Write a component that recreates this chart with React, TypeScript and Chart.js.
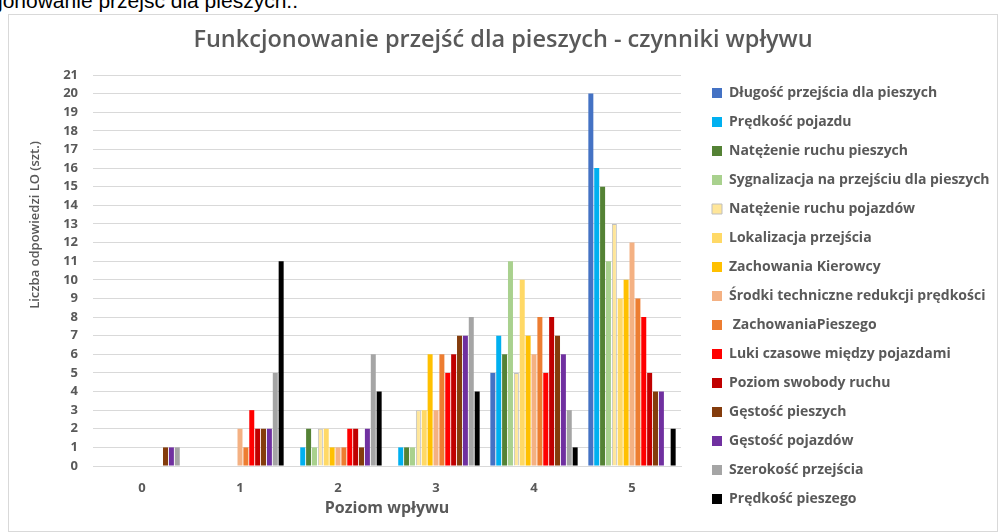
import React, { useEffect, useRef } from "react";
import { Chart, registerables } from "chart.js";

Chart.register(...registerables);

const categories = ["0", "1", "2", "3", "4", "5"];
const yTicks = [0, 21];
const chartTitle = "Funkcjonowanie przejść dla pieszych - czynniki wpływu";
const xAxisTitle = "Poziom wpływu";
const yAxisTitle = "Liczba odpowiedzi LO (szt.)";

const seriesNames = [
  "Długość przejścia dla pieszych",
  "Prędkość pojazdu",
  "Natężenie ruchu pieszych",
  "Sygnalizacja na przejściu dla pieszych",
  "Natężenie ruchu pojazdów",
  "Lokalizacja przejścia",
  "Zachowania Kierowcy",
  "Środki techniczne redukcji prędkości",
  " ZachowaniaPieszego",
  "Luki czasowe między pojazdami",
  "Poziom swobody ruchu",
  "Gęstość pieszych",
  "Gęstość pojazdów",
  "Szerokość przejścia",
  "Prędkość pieszego",
];

const dlugosc = [0, 0, 0, 0, 5, 20];
const predkoscPojazdu = [0, 0, 1, 1, 7, 16];
const natezeniePieszych = [0, 0, 2, 1, 6, 15];
const sygnalizacja = [0, 0, 1, 1, 11, 11];
const natezeniePojazdow = [0, 0, 2, 3, 5, 13];
const lokalizacja = [0, 0, 2, 3, 10, 9];
const zachowaniaKierowcy = [0, 0, 1, 6, 7, 10];
const srodki = [0, 2, 1, 3, 6, 12];
const zachowaniaPieszego = [0, 1, 1, 6, 8, 9];
const luki = [0, 3, 2, 5, 5, 8];
const poziomSwobody = [0, 2, 2, 6, 8, 5];
const gestoscPieszych = [1, 2, 1, 7, 7, 4];
const gestoscPojazdow = [1, 2, 2, 7, 6, 4];
const szerokosc = [1, 5, 6, 8, 3, 0];
const predkoscPieszego = [0, 11, 4, 4, 1, 2];

const seriesValues = [
  dlugosc,
  predkoscPojazdu,
  natezeniePieszych,
  sygnalizacja,
  natezeniePojazdow,
  lokalizacja,
  zachowaniaKierowcy,
  srodki,
  zachowaniaPieszego,
  luki,
  poziomSwobody,
  gestoscPieszych,
  gestoscPojazdow,
  szerokosc,
  predkoscPieszego,
];

const seriesColors = [
  "#4472C4",
  "#00B0F0",
  "#548235",
  "#A9D18E",
  "#FFE699",
  "#FFD966",
  "#FFC000",
  "#F4B183",
  "#ED7D31",
  "#FF0000",
  "#C00000",
  "#843C0C",
  "#7030A0",
  "#A5A5A5",
  "#000000",
];

const FONT = "'Open Sans', 'Liberation Sans', sans-serif";
const TEXT = "#595959";

const yTitlePlugin = {
  id: "yTitleLabel",
  afterDraw(chart: any) {
    const ctx = chart.ctx;
    ctx.save();
    ctx.translate(26, 210);
    ctx.rotate(-Math.PI / 2);
    ctx.font = `600 13px ${FONT}`;
    ctx.fillStyle = TEXT;
    ctx.textAlign = "center";
    ctx.textBaseline = "middle";
    ctx.fillText(yAxisTitle, 0, 0);
    ctx.restore();
  },
};

export default function App() {
  const canvasRef = useRef<HTMLCanvasElement | null>(null);

  useEffect(() => {
    if (!canvasRef.current) return;
    const datasets = seriesNames.map((name, i) => ({
      label: name,
      data: seriesValues[i],
      backgroundColor: seriesColors[i],
      borderColor: i === 4 ? "#BFBFBF" : seriesColors[i],
      borderWidth: i === 4 ? 1 : 0,
      barPercentage: 0.85,
      categoryPercentage: 0.9,
      yAxisID: "y",
    }));

    const chart = new Chart(canvasRef.current, {
      type: "bar",
      data: { labels: categories, datasets },
      plugins: [yTitlePlugin],
      options: {
        animation: false,
        responsive: false,
        maintainAspectRatio: false,
        layout: { padding: 0 },
        plugins: {
          title: {
            display: true,
            text: chartTitle,
            color: TEXT,
            font: { family: FONT, size: 23.5, weight: "600" as any, lineHeight: 1.2 },
            padding: { top: 11, bottom: 20.8 },
          },
          legend: {
            display: true,
            position: "right",
            align: "start",
            maxWidth: 300,
            title: {
              display: true,
              text: " ",
              font: { size: 12, lineHeight: 1.2 },
              padding: { top: 41.6, bottom: 0 },
            },
            labels: {
              boxWidth: 10,
              boxHeight: 10,
              padding: 15,
              color: TEXT,
              font: { family: FONT, size: 14, weight: "bold" },
            },
          },
          tooltip: { enabled: false },
        },
        scales: {
          x: {
            grid: { display: false, drawTicks: false },
            border: { display: true, color: "#D9D9D9" },
            ticks: {
              color: TEXT,
              padding: 14,
              font: { family: FONT, size: 13, weight: "bold" },
            },
            title: {
              display: true,
              text: xAxisTitle,
              color: TEXT,
              font: { family: FONT, size: 16, weight: "bold", lineHeight: 1.2 },
              padding: { top: 2, bottom: 12.5 },
            },
            afterFit: (scale: any) => {
              scale.height = 65;
            },
          },
          y: {
            min: yTicks[0],
            max: yTicks[1],
            ticks: {
              stepSize: 1,
              color: TEXT,
              padding: 15,
              font: { family: FONT, size: 13, weight: "bold" },
            },
            grid: { color: "#D9D9D9", drawTicks: false },
            border: { display: false },
            title: { display: false },
            afterFit: (scale: any) => {
              scale.width = 84;
            },
          },
          gap: {
            position: "right",
            display: true,
            grid: { display: false, drawTicks: false },
            border: { display: false },
            ticks: { display: false },
            afterFit: (scale: any) => {
              scale.width = 16;
            },
          },
        },
      },
    });
    return () => chart.destroy();
  }, []);

  return (
    <div>
      <div
        style={{
          position: "absolute",
          left: -2,
          top: -11,
          fontFamily: "'Liberation Sans', Arial, sans-serif",
          fontSize: 21,
          lineHeight: "24px",
          color: "#000",
          whiteSpace: "nowrap",
        }}
      >
        jonowanie przejść dla pieszych..
      </div>
      <div
        style={{
          position: "absolute",
          left: 8,
          top: 14,
          width: 988,
          height: 516,
          border: "1px solid #D9D9D9",
          background: "#fff",
        }}
      >
        <canvas ref={canvasRef} width={988} height={516} style={{ display: "block" }} />
      </div>
    </div>
  );
}
